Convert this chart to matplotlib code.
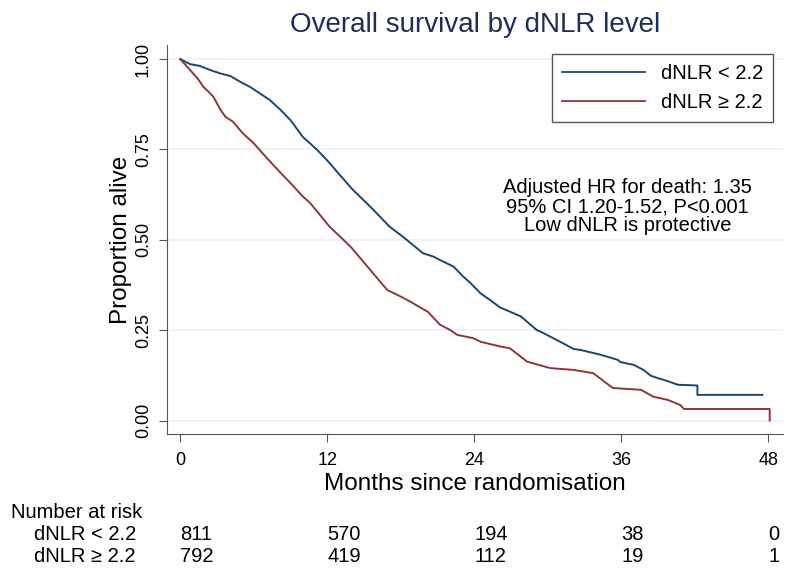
import matplotlib
matplotlib.use('Agg')
import matplotlib.pyplot as plt
import matplotlib.transforms as mtransforms

plt.rcParams['font.family'] = ['Liberation Sans', 'DejaVu Sans']

# Kaplan-Meier curves (months, proportion alive)
low_t = [0, 0.8, 1.6, 2.5, 3.3, 4.1, 4.9, 5.7, 6.5, 7.3, 8.2, 9.0, 10.0, 11.2, 12.2, 13.0,
         14.1, 15.5, 17.1, 18.3, 19.8, 20.7, 21.2, 22.3, 23.1, 23.7, 24.5, 25.3, 26.1,
         27.8, 29.1, 29.4, 31.0, 32.1, 32.7, 34.3, 35.7, 35.9, 37.0, 37.8, 38.4, 38.9,
         39.7, 40.6, 42.2, 42.2, 47.5]
low_s = [1.000, 0.986, 0.981, 0.969, 0.960, 0.953, 0.937, 0.923, 0.905, 0.887, 0.859,
         0.831, 0.785, 0.748, 0.712, 0.680, 0.638, 0.592, 0.536, 0.505, 0.463, 0.453,
         0.444, 0.426, 0.398, 0.380, 0.352, 0.333, 0.313, 0.288, 0.250, 0.246, 0.218,
         0.198, 0.195, 0.182, 0.168, 0.162, 0.154, 0.140, 0.124, 0.118, 0.110, 0.099,
         0.097, 0.071, 0.071]

high_t = [0, 0.8, 1.4, 1.9, 2.3, 2.7, 3.3, 3.7, 4.3, 5.1, 6.0, 7.1, 8.2, 9.0, 10.0,
          10.6, 12.2, 13.9, 15.5, 16.9, 17.7, 18.5, 20.2, 21.2, 22.0, 22.6, 23.9, 24.5,
          26.1, 26.9, 28.3, 30.2, 32.1, 33.7, 35.3, 37.6, 38.6, 39.8, 40.8, 41.1, 48.1,
          48.1]
high_s = [1.000, 0.970, 0.947, 0.923, 0.910, 0.896, 0.859, 0.840, 0.827, 0.795, 0.767,
          0.725, 0.685, 0.657, 0.620, 0.602, 0.536, 0.481, 0.417, 0.361, 0.348, 0.334,
          0.301, 0.265, 0.251, 0.237, 0.228, 0.218, 0.205, 0.200, 0.163, 0.145, 0.140,
          0.131, 0.090, 0.085, 0.066, 0.057, 0.043, 0.032, 0.032, 0.000]

risk_times = [0, 12, 24, 36, 48]
risk_low = [811, 570, 194, 38, 0]
risk_high = [792, 419, 112, 19, 1]

lab_low = 'dNLR < 2.2'
lab_high = 'dNLR ≥ 2.2'

navy = '#1a476f'
maroon = '#90353b'

fig = plt.figure(figsize=(8, 5.84), dpi=100)
ax = fig.add_axes([0.209, 0.257, 0.77, 0.666])

ax.plot(low_t, low_s, color=navy, lw=1.4, label=lab_low)
ax.plot(high_t, high_s, color=maroon, lw=1.4, label=lab_high)

ax.set_xlim(-1.06, 49.2)
ax.set_ylim(-0.037, 1.039)
ax.set_xticks(risk_times)
ax.set_yticks([0, 0.25, 0.5, 0.75, 1.0])
ax.set_yticklabels(['0.00', '0.25', '0.50', '0.75', '1.00'], rotation=90, va='center')
ax.grid(axis='y', color='#eaf2f3', lw=1.2)
ax.set_axisbelow(True)
for s in ['top', 'right']:
    ax.spines[s].set_visible(False)
for s in ['left', 'bottom']:
    ax.spines[s].set_color('#555555')
ax.tick_params(length=6, color='#555555', labelsize=13)
ax.tick_params(axis='x', pad=7)
ax.tick_params(axis='y', pad=5)

ax.set_xlabel('Months since randomisation', fontsize=17.5, labelpad=3)
ax.set_ylabel('Proportion alive', fontsize=17.5, labelpad=2)
ax.set_title('Overall survival by dNLR level', fontsize=20, color='#1e2d5c', pad=9)

leg = ax.legend(loc='upper right', bbox_to_anchor=(1.0, 1.003), fontsize=14.5,
                handlelength=4.1, handletextpad=0.8, borderpad=0.5, fancybox=False,
                edgecolor='#555555', framealpha=1)
leg.get_frame().set_linewidth(1.0)
for l in leg.get_lines():
    l.set_linewidth(1.3)

ax.text(0.747, 0.657, 'Adjusted HR for death: 1.35\n95% CI 1.20-1.52, P<0.001\nLow dNLR is protective',
        transform=ax.transAxes, ha='center', va='top', fontsize=14.5, linespacing=1.0)

# number at risk table
tr = mtransforms.blended_transform_factory(ax.transData, fig.transFigure)
fig.text(0.014, 1 - 512 / 584, 'Number at risk', fontsize=14.5, va='center')
fig.text(0.042, 1 - 535 / 584, lab_low, fontsize=14.5, va='center')
fig.text(0.042, 1 - 556 / 584, lab_high, fontsize=14.5, va='center')
for t, a, b in zip(risk_times, risk_low, risk_high):
    ax.text(t, 1 - 535 / 584, str(a), transform=tr, fontsize=14.5, va='center', ha='left')
    ax.text(t, 1 - 556 / 584, str(b), transform=tr, fontsize=14.5, va='center', ha='left')

fig.savefig('out.png', dpi=100)
